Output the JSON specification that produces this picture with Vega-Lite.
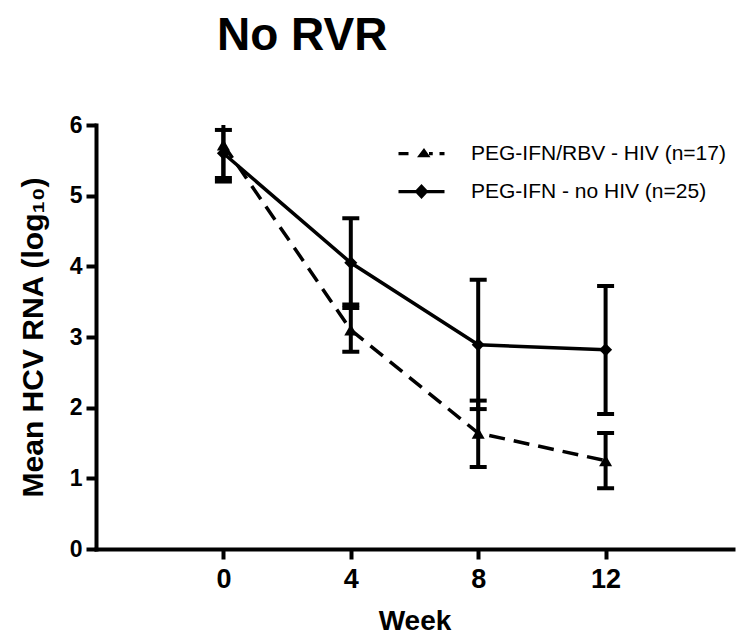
{
  "$schema": "https://vega.github.io/schema/vega-lite/v6.json",
  "width": 637,
  "height": 424,
  "autosize": {"type": "none"},
  "padding": {"left": 96, "top": 125, "right": 7, "bottom": 87},
  "background": "white",
  "title": {
    "text": "No RVR",
    "anchor": "start",
    "frame": "group",
    "dx": 121,
    "offset": 18,
    "baseline": "alphabetic",
    "font": "Liberation Sans",
    "fontSize": 46,
    "fontWeight": "bold",
    "color": "black"
  },
  "config": {"view": {"stroke": null}, "font": "Liberation Sans"},
  "data": {
    "values": [
      {"group": "PEG-IFN/RBV - HIV (n=17)", "week": 0, "mean": 5.72, "lower": 5.2, "upper": 6.24},
      {"group": "PEG-IFN/RBV - HIV (n=17)", "week": 4, "mean": 3.1, "lower": 2.79, "upper": 3.41},
      {"group": "PEG-IFN/RBV - HIV (n=17)", "week": 8, "mean": 1.64, "lower": 1.16, "upper": 2.1},
      {"group": "PEG-IFN/RBV - HIV (n=17)", "week": 12, "mean": 1.25, "lower": 0.86, "upper": 1.64},
      {"group": "PEG-IFN - no HIV (n=25)", "week": 0, "mean": 5.6, "lower": 5.25, "upper": 5.93},
      {"group": "PEG-IFN - no HIV (n=25)", "week": 4, "mean": 4.05, "lower": 3.46, "upper": 4.68},
      {"group": "PEG-IFN - no HIV (n=25)", "week": 8, "mean": 2.89, "lower": 1.98, "upper": 3.81},
      {"group": "PEG-IFN - no HIV (n=25)", "week": 12, "mean": 2.82, "lower": 1.91, "upper": 3.72}
    ]
  },
  "encoding": {
    "x": {
      "field": "week",
      "type": "quantitative",
      "scale": {"domain": [-4, 16], "nice": false, "zero": false},
      "axis": {
        "values": [0, 4, 8, 12],
        "format": "d",
        "title": "Week",
        "titleFont": "Liberation Sans",
        "titleFontSize": 28,
        "titleFontWeight": "bold",
        "titleColor": "black",
        "titlePadding": 15,
        "labelFont": "Liberation Sans",
        "labelFontSize": 27,
        "labelFontWeight": "bold",
        "labelColor": "black",
        "labelPadding": 7,
        "labelFlush": false,
        "tickSize": 10,
        "tickWidth": 4,
        "tickColor": "black",
        "domainColor": "black",
        "domainWidth": 4,
        "domainCap": "square",
        "grid": false
      }
    }
  },
  "resolve": {"scale": {"shape": "independent"}, "legend": {"shape": "independent"}},
  "layer": [
    {
      "mark": {"type": "rule", "strokeWidth": 4, "color": "black", "clip": true},
      "encoding": {
        "y": {
          "field": "lower",
          "type": "quantitative",
          "scale": {"domain": [0, 6], "nice": false},
          "axis": {
            "values": [0, 1, 2, 3, 4, 5, 6],
            "format": "d",
            "title": "Mean HCV RNA (log₁₀)",
            "titleFont": "Liberation Sans",
            "titleFontSize": 30,
            "titleFontWeight": "bold",
            "titleColor": "black",
            "titlePadding": 21,
            "labelFont": "Liberation Sans",
            "labelFontSize": 23,
            "labelFontWeight": "bold",
            "labelColor": "black",
            "labelPadding": 4,
            "tickSize": 10,
            "tickWidth": 4,
            "tickColor": "black",
            "domainColor": "black",
            "domainWidth": 4,
            "domainCap": "square",
            "grid": false
          }
        },
        "y2": {"field": "upper"}
      }
    },
    {
      "mark": {"type": "tick", "orient": "horizontal", "size": 17, "thickness": 4, "color": "black", "opacity": 1, "clip": true},
      "encoding": {"y": {"field": "upper", "type": "quantitative"}}
    },
    {
      "mark": {"type": "tick", "orient": "horizontal", "size": 17, "thickness": 4, "color": "black", "opacity": 1, "clip": true},
      "encoding": {"y": {"field": "lower", "type": "quantitative"}}
    },
    {
      "transform": [{"filter": "datum.group === 'PEG-IFN/RBV - HIV (n=17)'"}],
      "mark": {"type": "line", "strokeWidth": 3.5, "color": "black", "strokeDash": [16, 9]},
      "encoding": {"y": {"field": "mean", "type": "quantitative"}}
    },
    {
      "transform": [{"filter": "datum.group === 'PEG-IFN - no HIV (n=25)'"}],
      "mark": {"type": "line", "strokeWidth": 3.5, "color": "black"},
      "encoding": {"y": {"field": "mean", "type": "quantitative"}}
    },
    {
      "mark": {"type": "point", "filled": true, "color": "black", "opacity": 1, "size": 170},
      "encoding": {
        "y": {"field": "mean", "type": "quantitative"},
        "shape": {
          "field": "group",
          "type": "nominal",
          "scale": {
            "domain": ["PEG-IFN/RBV - HIV (n=17)", "PEG-IFN - no HIV (n=25)"],
            "range": ["triangle-up", "diamond"]
          },
          "legend": null
        }
      }
    },
    {
      "transform": [{"filter": "false"}],
      "mark": {"type": "point", "filled": true, "color": "black", "opacity": 1},
      "encoding": {
        "y": {"field": "mean", "type": "quantitative"},
        "shape": {
          "field": "group",
          "type": "nominal",
          "scale": {
            "domain": ["PEG-IFN/RBV - HIV (n=17)", "PEG-IFN - no HIV (n=25)"],
            "range": [
              "M-1.84,-0.13H-1.04V0.13H-1.84Z M-0.36,0.3L0.2,-0.45L0.72,0.3Z M0.6,-0.13H0.9V0.13H0.6Z M1.44,-0.13H1.84V0.13H1.44Z",
              "M-1.84,-0.13H1.84V0.13H-1.84Z M0,-0.6L0.56,0L0,0.6L-0.56,0Z"
            ]
          },
          "legend": {
            "orient": "none",
            "legendX": 312,
            "legendY": 15,
            "title": null,
            "padding": 0,
            "labelFont": "Liberation Sans",
            "labelFontSize": 21,
            "labelColor": "black",
            "labelLimit": 400,
            "labelOffset": 36,
            "rowPadding": 14,
            "symbolSize": 625,
            "encode": {
              "symbols": {
                "fill": {"value": "black"},
                "fillOpacity": {"value": 1},
                "opacity": {"value": 1},
                "stroke": {"value": "transparent"},
                "strokeWidth": {"value": 0}
              }
            }
          }
        }
      }
    }
  ]
}
